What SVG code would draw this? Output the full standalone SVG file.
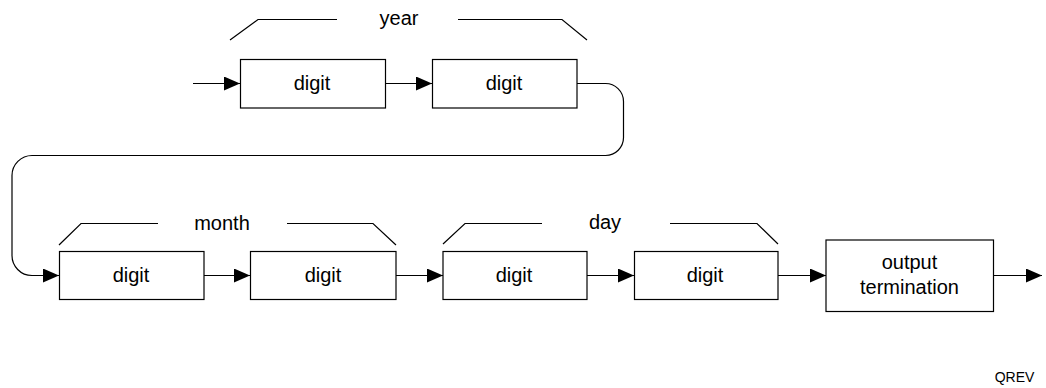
<svg xmlns="http://www.w3.org/2000/svg" width="1046" height="388" viewBox="0 0 1046 388">
<style>
.box{fill:#fff;stroke:#000;stroke-width:1.2}
.ln{fill:none;stroke:#000;stroke-width:1.2}
.t{font-family:"Liberation Sans",Arial,sans-serif;font-size:20px;fill:#000;text-anchor:middle}
.s{font-family:"Liberation Sans",Arial,sans-serif;font-size:14px;fill:#000;text-anchor:middle}
</style>
<defs>
<marker id="ah" markerUnits="userSpaceOnUse" viewBox="0 0 16 14" refX="16" refY="7" markerWidth="16" markerHeight="14" orient="auto">
<path d="M0,0 L16,7 L0,14 Z" fill="#000"/>
</marker>
</defs>
<rect width="1046" height="388" fill="#fff"/>
<g id="brackets">
<polyline class="ln" points="230,40 258,19.5 337,19.5"/>
<polyline class="ln" points="458,19.5 562,19.5 587,40"/>
<text class="t" x="399" y="25">year</text>
<polyline class="ln" points="59,245 81,223.5 158,223.5"/>
<polyline class="ln" points="287,223.5 373,223.5 396,245"/>
<text class="t" x="222" y="230">month</text>
<polyline class="ln" points="443,244 465,223.5 542,223.5"/>
<polyline class="ln" points="670,223.5 757,223.5 778,244"/>
<text class="t" x="605" y="229">day</text>
</g>
<g id="connectors">
<line class="ln" x1="193" y1="83.5" x2="240" y2="83.5" marker-end="url(#ah)"/>
<line class="ln" x1="385" y1="83.5" x2="432" y2="83.5" marker-end="url(#ah)"/>
<path class="ln" d="M577,83.5 H605 A18,18 0 0 1 623.5,101.5 V137 A18,18 0 0 1 605,155.5 H32 A20,20 0 0 0 12,175.5 V255 A20,20 0 0 0 32,275.5 H59" marker-end="url(#ah)"/>
<line class="ln" x1="204" y1="275.5" x2="250" y2="275.5" marker-end="url(#ah)"/>
<line class="ln" x1="396" y1="275.5" x2="443" y2="275.5" marker-end="url(#ah)"/>
<line class="ln" x1="587" y1="275.5" x2="634" y2="275.5" marker-end="url(#ah)"/>
<line class="ln" x1="778" y1="275.5" x2="826" y2="275.5" marker-end="url(#ah)"/>
<line class="ln" x1="993" y1="275.5" x2="1042" y2="275.5" marker-end="url(#ah)"/>
</g>
<g id="year-digit1"><rect class="box" x="240.5" y="59.5" width="145" height="48.5"/><text class="t" x="312" y="90">digit</text></g>
<g id="year-digit2"><rect class="box" x="432.5" y="59.5" width="144.5" height="48.5"/><text class="t" x="504" y="90">digit</text></g>
<g id="month-digit1"><rect class="box" x="59.5" y="251.5" width="144.5" height="48"/><text class="t" x="131" y="282">digit</text></g>
<g id="month-digit2"><rect class="box" x="250.5" y="251.5" width="145.5" height="48"/><text class="t" x="323" y="282">digit</text></g>
<g id="day-digit1"><rect class="box" x="443" y="251.5" width="144" height="48"/><text class="t" x="514" y="282">digit</text></g>
<g id="day-digit2"><rect class="box" x="634.5" y="251.5" width="143.5" height="48"/><text class="t" x="705" y="282">digit</text></g>
<g id="output-termination"><rect class="box" x="826" y="240" width="167.5" height="71.5"/><text class="t" x="909.5" y="269">output</text><text class="t" x="909.5" y="294">termination</text></g>
<text class="s" x="1014.5" y="382">QREV</text>
</svg>
